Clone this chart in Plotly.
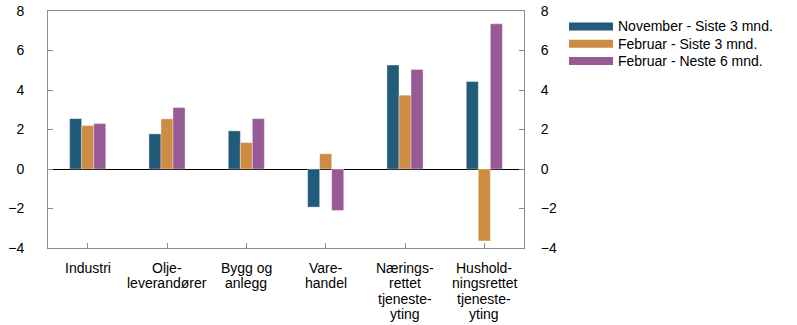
import plotly.graph_objects as go

# Sectors (x-axis categories, line-broken as printed)
categories = [
    "Industri",
    "Olje-<br>leverandører",
    "Bygg og<br>anlegg",
    "Vare-<br>handel",
    "Nærings-<br>rettet<br>tjeneste-<br>yting",
    "Hushold-<br>ningsrettet<br>tjeneste-<br>yting",
]

series_names = [
    "November - Siste 3 mnd.",
    "Februar - Siste 3 mnd.",
    "Februar - Neste 6 mnd.",
]

nov_last3 = [2.55, 1.78, 1.93, -1.93, 5.26, 4.43]
feb_last3 = [2.2, 2.54, 1.34, 0.77, 3.74, -3.64]
feb_next6 = [2.3, 3.11, 2.55, -2.1, 5.04, 7.35]

series_values = [nov_last3, feb_last3, feb_next6]
colors = ["#225A79", "#CE8B42", "#975A96"]

y_ticks = [-4, -2, 0, 2, 4, 6, 8]
y_range = [-4, 8]

fig = go.Figure()
for name, vals, col in zip(series_names, series_values, colors):
    fig.add_trace(go.Bar(
        x=categories, y=vals, name=name,
        marker=dict(color=col, line=dict(color="rgba(255,255,255,0.45)", width=0.8)),
        showlegend=False,
    ))

# carrier trace so the right-hand value axis is drawn
fig.add_trace(go.Scatter(x=categories, y=[None] * len(categories), yaxis="y2",
                         showlegend=False, hoverinfo="skip", mode="lines"))

axis_gray = "#8C8C8C"
font = dict(family="Liberation Sans, Arial, sans-serif", size=14, color="#000000")

plot_top, plot_bottom, plot_left, plot_right = 11, 248, 48, 524
plot_h = plot_bottom - plot_top
plot_w = plot_right - plot_left

fig.update_layout(
    width=797, height=325,
    margin=dict(l=plot_left, r=797 - plot_right, t=plot_top, b=325 - plot_bottom),
    paper_bgcolor="white", plot_bgcolor="white",
    font=font,
    barmode="group", bargap=0.545, bargroupgap=0,
    xaxis=dict(
        type="category", showgrid=False, zeroline=False, automargin=False,
        showline=True, linecolor=axis_gray, linewidth=1, mirror=True,
        ticks="inside", ticklen=5, tickcolor=axis_gray,
        showticklabels=False,
    ),
    yaxis=dict(
        range=y_range, tickvals=y_ticks, showgrid=False, automargin=False,
        zeroline=True, zerolinecolor="#000000", zerolinewidth=1.2,
        showline=True, linecolor=axis_gray, linewidth=1,
        ticks="inside", ticklen=5, tickcolor=axis_gray,
        tickfont=font, ticklabelstandoff=20,
    ),
    yaxis2=dict(
        range=y_range, tickvals=y_ticks, overlaying="y", side="right",
        showgrid=False, zeroline=False, automargin=False,
        showline=True, linecolor=axis_gray, linewidth=1,
        ticks="inside", ticklen=5, tickcolor=axis_gray,
        tickfont=font, ticklabelstandoff=13,
    ),
)

# category labels, one annotation per line for tight line spacing
first_line_y, line_step = 268, 15.4
for cat in categories:
    for i, line in enumerate(cat.split("<br>")):
        fig.add_annotation(xref="x", yref="paper", x=cat,
                           y=(plot_bottom - (first_line_y + i * line_step)) / plot_h,
                           text=line, showarrow=False, xanchor="center",
                           yanchor="middle", font=font)

# legend drawn as wide swatches with labels to the right of the plot
row_y = [26.5, 43.8, 61.1]
for name, col, yc in zip(series_names, colors, row_y):
    fig.add_shape(type="rect", xref="paper", yref="paper",
                  x0=(569 - plot_left) / plot_w, x1=(613 - plot_left) / plot_w,
                  y0=(plot_bottom - yc - 4) / plot_h, y1=(plot_bottom - yc + 4) / plot_h,
                  fillcolor=col, line=dict(width=0))
    fig.add_annotation(xref="paper", yref="paper",
                       x=(616 - plot_left) / plot_w, y=(plot_bottom - yc) / plot_h,
                       text=name, showarrow=False, xanchor="left", yanchor="middle",
                       font=font)

fig.write_html("out.html")
